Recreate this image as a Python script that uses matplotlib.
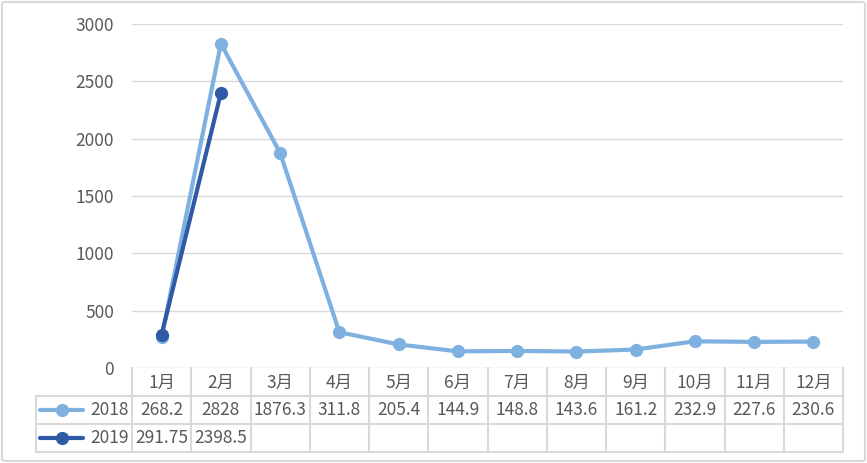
import matplotlib.pyplot as plt
from matplotlib.patches import FancyBboxPatch

plt.rcParams['font.family'] = ['Noto Sans CJK SC', 'DejaVu Sans']
plt.rcParams['font.weight'] = 'light'

months = ['1月', '2月', '3月', '4月', '5月', '6月', '7月', '8月', '9月', '10月', '11月', '12月']
v2018 = [268.2, 2828, 1876.3, 311.8, 205.4, 144.9, 148.8, 143.6, 161.2, 232.9, 227.6, 230.6]
v2019 = [291.75, 2398.5]
labels2018 = ['268.2', '2828', '1876.3', '311.8', '205.4', '144.9', '148.8', '143.6', '161.2', '232.9', '227.6', '230.6']
labels2019 = ['291.75', '2398.5']

c2018 = '#7EB1E0'
c2019 = '#2F5AA6'
grid = '#D9D9D9'
txt = '#595959'
fs = 12.5

W, H = 867, 463
fig = plt.figure(figsize=(W / 100, H / 100), dpi=100)

# outer frame
fig.add_artist(FancyBboxPatch((2 / W, 2 / H), (W - 4) / W, (H - 4) / H,
                              boxstyle='round,pad=0,rounding_size=0.004',
                              transform=fig.transFigure, fc='none', ec=grid, lw=1.5))

x0, x1 = 132, 843
ytop, yzero = 24, 368
ax = fig.add_axes([x0 / W, (H - yzero) / H, (x1 - x0) / W, (yzero - ytop) / H])
ax.set_xlim(-0.5, 11.5)
ax.set_ylim(0, 3000)
ax.set_yticks(range(0, 3001, 500))
ax.set_xticks([])
ax.yaxis.grid(True, color=grid, lw=1)
ax.set_axisbelow(True)
for s in ax.spines.values():
    s.set_visible(False)
ax.tick_params(axis='y', length=0, pad=13, labelsize=fs, labelcolor=txt)
ax.patch.set_alpha(0)

xs = range(len(months))
ax.plot(xs, v2018, color=c2018, lw=3, marker='o', ms=8.5, clip_on=False, zorder=3)
ax.plot(range(len(v2019)), v2019, color=c2019, lw=3, marker='o', ms=8.5, clip_on=False, zorder=4)

# data table
ybot = 452
tab = fig.add_axes([x0 / W, (H - ybot) / H, (x1 - x0) / W, (ybot - yzero) / H])
tab.set_xlim(-0.5, 11.5)
tab.set_ylim(3, 0)
tab.axis('off')
colw = (x1 - x0) / 12
xl = -0.5 - (x0 - 36) / colw  # legend column left edge

lk = dict(color=grid, lw=1.5, clip_on=False)
for i in range(13):
    tab.plot([i - 0.5, i - 0.5], [0, 3], **lk)
for r in (1, 2, 3):
    tab.plot([xl, 11.5], [r, r], **lk)
tab.plot([xl, xl], [1, 3], **lk)

for i, m in enumerate(months):
    tab.text(i, 0.55, m, ha='center', va='center', fontsize=fs, color=txt)
for i, s in enumerate(labels2018):
    tab.text(i, 1.5, s, ha='center', va='center', fontsize=fs, color=txt)
for i, s in enumerate(labels2019):
    tab.text(i, 2.5, s, ha='center', va='center', fontsize=fs, color=txt)

for r, name, c in ((1.5, '2018', c2018), (2.5, '2019', c2019)):
    tab.plot([xl + 0.07, xl + 0.8], [r, r], color=c, lw=3, clip_on=False, solid_capstyle='round')
    tab.plot([xl + 0.435], [r], color=c, marker='o', ms=8.5, clip_on=False)
    tab.text(-0.56, r, name, ha='right', va='center', fontsize=fs, color=txt)

fig.savefig('out.png', dpi=100)
